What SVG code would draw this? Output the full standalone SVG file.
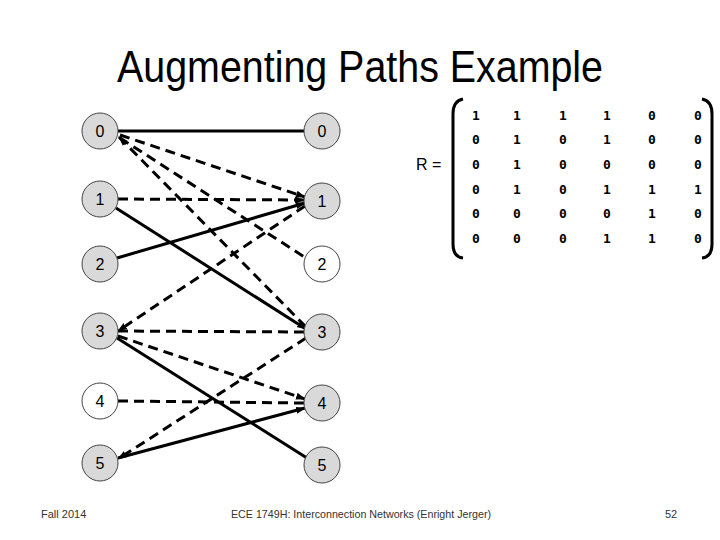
<svg xmlns="http://www.w3.org/2000/svg" width="720" height="540" viewBox="0 0 720 540">
<style>
.title{font-family:"Liberation Sans",Arial,sans-serif;font-size:44px;fill:#000}
.node circle{stroke:#444;stroke-width:1}
.g{fill:#d9d9d9}
.w{fill:#fff}
.node text{font-family:"Liberation Sans",Arial,sans-serif;font-size:16px;fill:#000;text-anchor:middle}
.solid{stroke:#000;stroke-width:3;fill:none}
.dash{stroke:#000;stroke-width:3;fill:none;stroke-dasharray:10 6}
.m{font-family:"DejaVu Sans Mono",monospace;font-size:13px;font-weight:bold;fill:#000;text-anchor:middle}
.lbl{font-family:"Liberation Sans",Arial,sans-serif;font-size:16px;fill:#000}
.foot{font-family:"Liberation Sans",Arial,sans-serif;font-size:11px;fill:#333}
.br{stroke:#000;stroke-width:3;fill:none}
</style>
<defs>
<marker id="ah" markerUnits="userSpaceOnUse" markerWidth="10" markerHeight="8" refX="9" refY="4" orient="auto-start-reverse">
<path d="M0,0.5 L10,4 L0,7.5 z" fill="#000"/>
</marker>
</defs>
<rect width="720" height="540" fill="#fff"/>
<text class="title" x="117" y="82" textLength="486" lengthAdjust="spacingAndGlyphs">Augmenting Paths Example</text>

<g id="connectors">
<line class="solid" x1="118" y1="131" x2="304" y2="131"/>
<line class="solid" x1="116" y1="208" x2="306" y2="329" marker-end="url(#ah)"/>
<line class="solid" x1="117" y1="258" x2="305" y2="203" marker-end="url(#ah)"/>
<line class="solid" x1="117" y1="338" x2="307" y2="458"/>
<line class="solid" x1="118" y1="458" x2="305" y2="408" marker-end="url(#ah)"/>
<line class="dash" x1="120" y1="135" x2="305" y2="197" marker-end="url(#ah)"/>
<line class="dash" x1="120" y1="138" x2="306" y2="258"/>
<line class="dash" x1="119" y1="137" x2="306" y2="327" marker-start="url(#ah)"/>
<line class="dash" x1="118" y1="199" x2="304" y2="200" marker-end="url(#ah)"/>
<line class="dash" x1="305" y1="206" x2="118" y2="331" marker-end="url(#ah)"/>
<line class="dash" x1="118" y1="331" x2="304" y2="332"/>
<line class="dash" x1="118" y1="336" x2="305" y2="399" marker-end="url(#ah)"/>
<line class="dash" x1="118" y1="401" x2="304" y2="403"/>
<line class="dash" x1="306" y1="338" x2="118" y2="459" marker-end="url(#ah)"/>
</g>

<g id="L0" class="node"><circle class="g" cx="100" cy="131" r="18"/><text x="100" y="137">0</text></g>
<g id="L1" class="node"><circle class="g" cx="100" cy="199" r="18"/><text x="100" y="205">1</text></g>
<g id="L2" class="node"><circle class="g" cx="100" cy="264" r="18"/><text x="100" y="270">2</text></g>
<g id="L3" class="node"><circle class="g" cx="100" cy="331" r="18"/><text x="100" y="337">3</text></g>
<g id="L4" class="node"><circle class="w" cx="100" cy="401" r="18"/><text x="100" y="407">4</text></g>
<g id="L5" class="node"><circle class="g" cx="100" cy="463" r="18"/><text x="100" y="469">5</text></g>

<g id="R0" class="node"><circle class="g" cx="322" cy="131" r="18"/><text x="322" y="137">0</text></g>
<g id="R1" class="node"><circle class="g" cx="322" cy="201" r="18"/><text x="322" y="207">1</text></g>
<g id="R2" class="node"><circle class="w" cx="322" cy="264" r="18"/><text x="322" y="270">2</text></g>
<g id="R3" class="node"><circle class="g" cx="322" cy="332" r="18"/><text x="322" y="338">3</text></g>
<g id="R4" class="node"><circle class="g" cx="322" cy="403" r="18"/><text x="322" y="409">4</text></g>
<g id="R5" class="node"><circle class="g" cx="322" cy="465" r="18"/><text x="322" y="471">5</text></g>

<g id="matrix">
<text class="lbl" x="416" y="170">R =</text>
<path class="br" d="M463,99 Q453,101 453,114 L453,244 Q453,257 463,258"/>
<path class="br" d="M702,99 Q712,101 712,114 L712,244 Q712,257 702,258"/>
<g>
<text class="m" x="476" y="120">1</text><text class="m" x="517" y="120">1</text><text class="m" x="563" y="120">1</text><text class="m" x="607" y="120">1</text><text class="m" x="652" y="120">0</text><text class="m" x="698" y="120">0</text>
<text class="m" x="476" y="144">0</text><text class="m" x="517" y="144">1</text><text class="m" x="563" y="144">0</text><text class="m" x="607" y="144">1</text><text class="m" x="652" y="144">0</text><text class="m" x="698" y="144">0</text>
<text class="m" x="476" y="169">0</text><text class="m" x="517" y="169">1</text><text class="m" x="563" y="169">0</text><text class="m" x="607" y="169">0</text><text class="m" x="652" y="169">0</text><text class="m" x="698" y="169">0</text>
<text class="m" x="476" y="194">0</text><text class="m" x="517" y="194">1</text><text class="m" x="563" y="194">0</text><text class="m" x="607" y="194">1</text><text class="m" x="652" y="194">1</text><text class="m" x="698" y="194">1</text>
<text class="m" x="476" y="218">0</text><text class="m" x="517" y="218">0</text><text class="m" x="563" y="218">0</text><text class="m" x="607" y="218">0</text><text class="m" x="652" y="218">1</text><text class="m" x="698" y="218">0</text>
<text class="m" x="476" y="243">0</text><text class="m" x="517" y="243">0</text><text class="m" x="563" y="243">0</text><text class="m" x="607" y="243">1</text><text class="m" x="652" y="243">1</text><text class="m" x="698" y="243">0</text>
</g>
</g>

<text class="foot" x="41" y="518">Fall 2014</text>
<text class="foot" x="231" y="518" textLength="260" lengthAdjust="spacingAndGlyphs">ECE 1749H: Interconnection Networks (Enright Jerger)</text>
<text class="foot" x="665" y="518">52</text>
</svg>
